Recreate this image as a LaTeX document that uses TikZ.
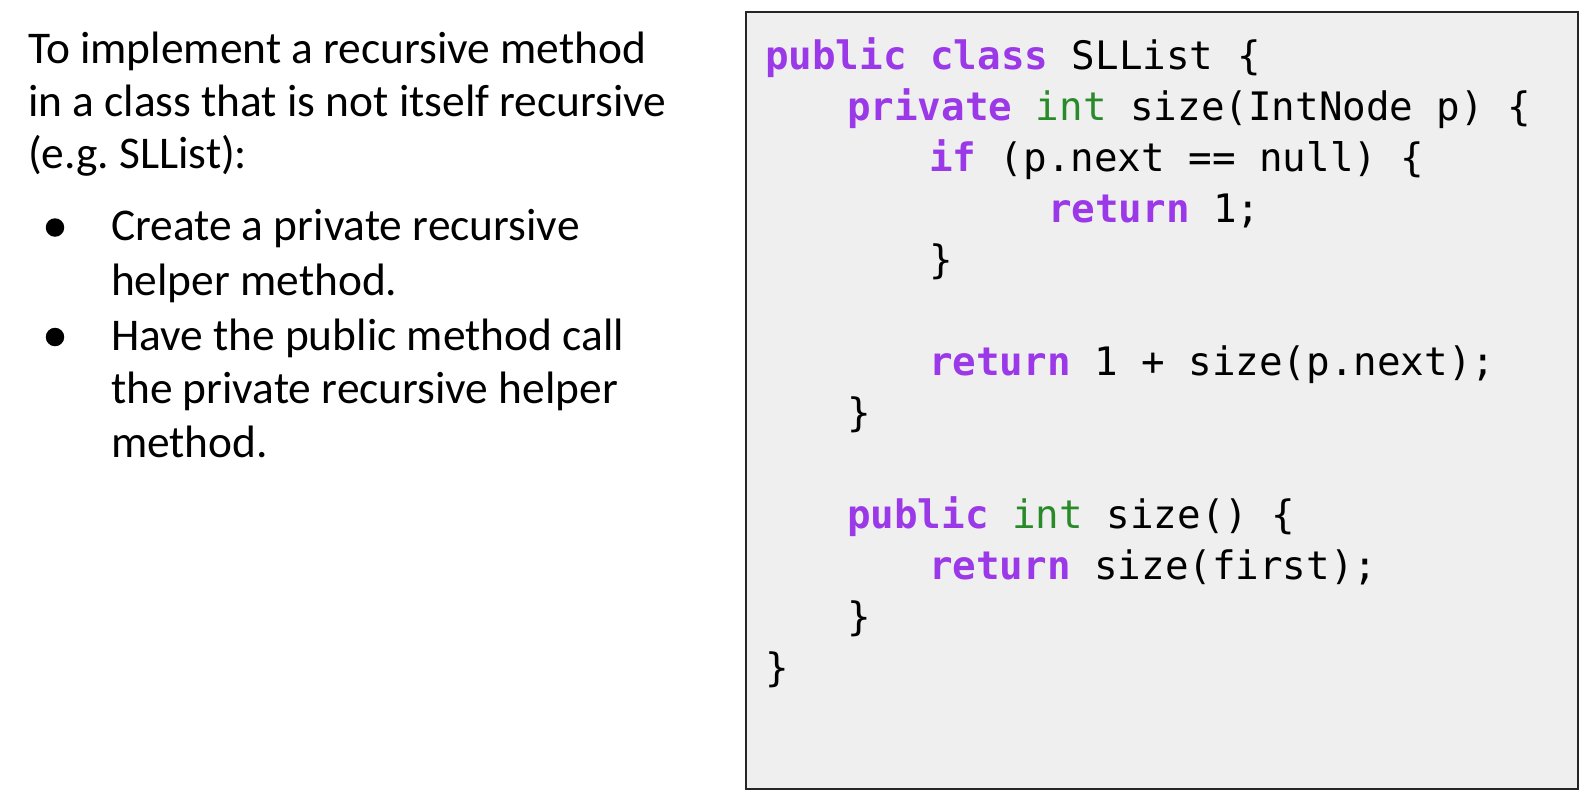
\documentclass[tikz,border=0pt]{standalone}
\usepackage{fontspec}
\setmainfont{Carlito}
\newfontfamily\codefont{DejaVu Sans Mono}
\frenchspacing
\newcommand{\kw}[1]{\textcolor{kwColor}{\bfseries #1}}
\newcommand{\ty}[1]{\textcolor{tyColor}{#1}}
\begin{document}
\begin{tikzpicture}[x=1pt,y=-1pt,
  prose/.style={text=drawColor,anchor=base west,inner sep=0pt,outer sep=0pt,font=\fontsize{45.4}{54}\selectfont},
  codeline/.style={text=drawColor,anchor=base west,inner sep=0pt,outer sep=0pt,font=\codefont\fontsize{39.2}{47}\selectfont},
  bulletdot/.style={circle,fill=drawColor,inner sep=0pt,minimum size=18.5pt}]
\definecolor{fillColor}{RGB}{255,255,255}
\definecolor{drawColor}{RGB}{0,0,0}
\definecolor{boxColor}{RGB}{239,239,239}
\definecolor{kwColor}{RGB}{155,57,232}
\definecolor{tyColor}{RGB}{40,138,40}
\path[use as bounding box,fill=fillColor] (0,0) rectangle (1588,796);

% left column
\node[prose] (t1) at ( 28, 63.3) {To implement a recursive method};

\node[prose] (t2) at ( 28,116.7) {in a class that is not itself recursive};

\node[prose] (t3) at ( 28,168.5) {(e.g. SLList):};

\node[bulletdot] (b1) at ( 55,227.5) {};

\node[prose] (t4) at (111,240.0) {Create a private recursive};

\node[prose] (t5) at (111,295.0) {helper method.};

\node[bulletdot] (b2) at ( 55,337.0) {};

\node[prose] (t6) at (111,350.0) {Have the public method call};

\node[prose] (t7) at (111,403.5) {the private recursive helper};

\node[prose] (t8) at (111,457.0) {method.};

% code box
\path[draw=black!85,fill=boxColor,line width=2.4pt] (746,12) rectangle (1578,789);

\node[codeline] (c1) at ( 765, 69.5) {\kw{public} \kw{class} SLList \{};

\node[codeline] (c2) at ( 847,120.5) {\kw{private} \ty{int} size(IntNode p) \{};

\node[codeline] (c3) at ( 929,171.5) {\kw{if} (p.next == null) \{};

\node[codeline] (c4) at (1048,222.5) {\kw{return} 1;};

\node[codeline] (c5) at ( 929,273.5) {\}};

\node[codeline] (c7) at ( 929,375.5) {\kw{return} 1 + size(p.next);};

\node[codeline] (c8) at ( 847,426.5) {\}};

\node[codeline] (c10) at ( 847,528.5) {\kw{public} \ty{int} size() \{};

\node[codeline] (c11) at ( 929,579.5) {\kw{return} size(first);};

\node[codeline] (c12) at ( 847,630.5) {\}};

\node[codeline] (c13) at ( 765,681.5) {\}};
\end{tikzpicture}
\end{document}
